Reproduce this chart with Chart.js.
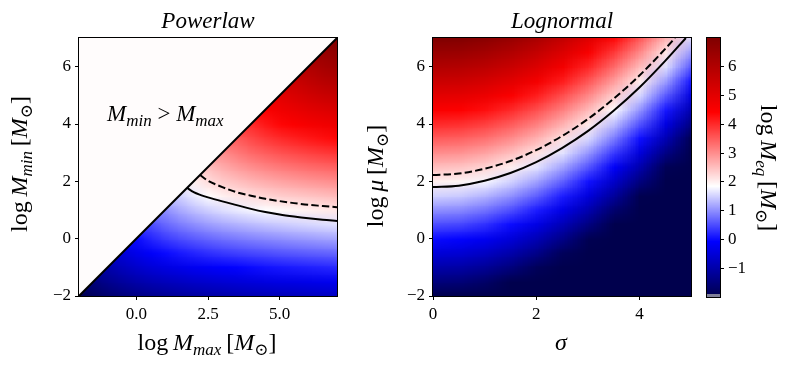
<!DOCTYPE html>
<html>
<head>
  <meta charset="utf-8">
  <title>Powerlaw / Lognormal log M_eq</title>
  <script src="https://cdn.jsdelivr.net/npm/chart.js@4.4.0/dist/chart.umd.min.js"></script>
  <style>
    html, body { margin: 0; padding: 0; background: #fff; }
    #wrap { position: relative; width: 790px; height: 369px; }
    #wrap canvas { position: absolute; left: 0; top: 0; }
  </style>
</head>
<body>
<div id="wrap">
  <canvas id="powerlaw" width="790" height="369"></canvas>
  <canvas id="lognormal" width="790" height="369"></canvas>
  <canvas id="cbar" width="790" height="369"></canvas>
</div>
<script>
// ---------- Powerlaw panel: log M_eq on a (log M_max, log M_min) grid ----------
const plX = [-2, -1.5, -1, -0.5, 0, 0.5, 1, 1.5, 2, 2.5, 3, 3.5, 4, 4.5, 5, 5.5, 6, 6.5, 7];
const plY = [-2, -1.5, -1, -0.5, 0, 0.5, 1, 1.5, 2, 2.5, 3, 3.5, 4, 4.5, 5, 5.5, 6, 6.5, 7];
// rows go with plY (bottom row first), columns with plX
const plValues = [
  [-2, -1.8, -1.64, -1.51, -1.4, -1.31, -1.23, -1.16, -1.1, -1.05, -1, -0.95, -0.91, -0.87, -0.84, -0.81, -0.78, -0.75, -0.73],
  [-1.5, -1.5, -1.3, -1.14, -1.01, -0.9, -0.81, -0.73, -0.66, -0.6, -0.55, -0.5, -0.45, -0.41, -0.37, -0.34, -0.31, -0.28, -0.25],
  [-1, -1, -1, -0.8, -0.64, -0.51, -0.4, -0.31, -0.23, -0.16, -0.1, -0.05, 0, 0.05, 0.09, 0.13, 0.16, 0.19, 0.22],
  [-0.5, -0.5, -0.5, -0.5, -0.3, -0.14, -0.01, 0.1, 0.19, 0.27, 0.34, 0.4, 0.45, 0.5, 0.55, 0.59, 0.63, 0.66, 0.69],
  [0, 0, 0, 0, 0, 0.2, 0.36, 0.49, 0.6, 0.69, 0.77, 0.84, 0.9, 0.95, 1, 1.05, 1.09, 1.13, 1.16],
  [0.5, 0.5, 0.5, 0.5, 0.5, 0.5, 0.7, 0.86, 0.99, 1.1, 1.19, 1.27, 1.34, 1.4, 1.45, 1.5, 1.55, 1.59, 1.63],
  [1, 1, 1, 1, 1, 1, 1, 1.2, 1.36, 1.49, 1.6, 1.69, 1.77, 1.84, 1.9, 1.95, 2, 2.05, 2.09],
  [1.5, 1.5, 1.5, 1.5, 1.5, 1.5, 1.5, 1.5, 1.7, 1.86, 1.99, 2.1, 2.19, 2.27, 2.34, 2.4, 2.45, 2.5, 2.55],
  [2, 2, 2, 2, 2, 2, 2, 2, 2, 2.2, 2.36, 2.49, 2.6, 2.69, 2.77, 2.84, 2.9, 2.95, 3],
  [2.5, 2.5, 2.5, 2.5, 2.5, 2.5, 2.5, 2.5, 2.5, 2.5, 2.7, 2.86, 2.99, 3.1, 3.19, 3.27, 3.34, 3.4, 3.45],
  [3, 3, 3, 3, 3, 3, 3, 3, 3, 3, 3, 3.2, 3.36, 3.49, 3.6, 3.69, 3.77, 3.84, 3.9],
  [3.5, 3.5, 3.5, 3.5, 3.5, 3.5, 3.5, 3.5, 3.5, 3.5, 3.5, 3.5, 3.7, 3.86, 3.99, 4.1, 4.19, 4.27, 4.34],
  [4, 4, 4, 4, 4, 4, 4, 4, 4, 4, 4, 4, 4, 4.2, 4.36, 4.49, 4.6, 4.69, 4.77],
  [4.5, 4.5, 4.5, 4.5, 4.5, 4.5, 4.5, 4.5, 4.5, 4.5, 4.5, 4.5, 4.5, 4.5, 4.7, 4.86, 4.99, 5.1, 5.19],
  [5, 5, 5, 5, 5, 5, 5, 5, 5, 5, 5, 5, 5, 5, 5, 5.2, 5.36, 5.49, 5.6],
  [5.5, 5.5, 5.5, 5.5, 5.5, 5.5, 5.5, 5.5, 5.5, 5.5, 5.5, 5.5, 5.5, 5.5, 5.5, 5.5, 5.7, 5.86, 5.99],
  [6, 6, 6, 6, 6, 6, 6, 6, 6, 6, 6, 6, 6, 6, 6, 6, 6, 6.2, 6.36],
  [6.5, 6.5, 6.5, 6.5, 6.5, 6.5, 6.5, 6.5, 6.5, 6.5, 6.5, 6.5, 6.5, 6.5, 6.5, 6.5, 6.5, 6.5, 6.7],
  [7, 7, 7, 7, 7, 7, 7, 7, 7, 7, 7, 7, 7, 7, 7, 7, 7, 7, 7]
];
const plMaskValue = 1.88;                       // flat colour where M_min > M_max
const plFieldRegion = [[-2, -2], [7, -2], [7, 7]];
const plMaskRegion = [[-2, -2], [-2, 7], [7, 7]];
const plDiagonal = [[-2, -2], [7, 7]];
const plSolid = [[1.77, 1.77], [2, 1.62], [2.25, 1.52], [2.5, 1.44], [3, 1.3], [3.5, 1.17], [4, 1.04],
  [4.5, 0.93], [5, 0.84], [5.5, 0.77], [6, 0.71], [6.5, 0.66], [7, 0.62]];
const plDashed = [[2.22, 2.22], [2.5, 2.02], [3, 1.8], [3.5, 1.62], [4, 1.5], [4.5, 1.39], [5, 1.31],
  [5.5, 1.24], [6, 1.18], [6.5, 1.14], [7, 1.1]];

// ---------- Lognormal panel: log M_eq on a (sigma, log mu) grid ----------
const lnSigma = [0, 0.5, 1, 1.5, 2, 2.5, 3, 3.5, 4, 4.5, 5];
const lnMu = [-2, -1.5, -1, -0.5, 0, 0.5, 1, 1.5, 2, 2.5, 3, 3.5, 4, 4.5, 5, 5.5, 6, 6.5, 7];
const lnValues = [
  [-2, -2, -2, -2, -2, -2, -2, -2, -2, -2, -2],
  [-1.5, -1.55, -1.72, -1.99, -2, -2, -2, -2, -2, -2, -2],
  [-1, -1.05, -1.22, -1.49, -1.87, -2, -2, -2, -2, -2, -2],
  [-0.5, -0.55, -0.72, -0.99, -1.37, -1.86, -2, -2, -2, -2, -2],
  [0, -0.05, -0.22, -0.49, -0.87, -1.36, -1.95, -2, -2, -2, -2],
  [0.5, 0.45, 0.28, 0.01, -0.37, -0.86, -1.45, -2, -2, -2, -2],
  [1, 0.95, 0.78, 0.51, 0.13, -0.36, -0.95, -1.66, -2, -2, -2],
  [1.5, 1.45, 1.28, 1.01, 0.63, 0.14, -0.45, -1.16, -1.97, -2, -2],
  [2, 1.95, 1.78, 1.51, 1.13, 0.64, 0.05, -0.66, -1.47, -2, -2],
  [2.5, 2.45, 2.28, 2.01, 1.63, 1.14, 0.55, -0.16, -0.97, -1.9, -2],
  [3, 2.95, 2.78, 2.51, 2.13, 1.64, 1.05, 0.34, -0.47, -1.4, -2],
  [3.5, 3.45, 3.28, 3.01, 2.63, 2.14, 1.55, 0.84, 0.03, -0.9, -1.93],
  [4, 3.95, 3.78, 3.51, 3.13, 2.64, 2.05, 1.34, 0.53, -0.4, -1.43],
  [4.5, 4.45, 4.28, 4.01, 3.63, 3.14, 2.55, 1.84, 1.03, 0.1, -0.93],
  [5, 4.95, 4.78, 4.51, 4.13, 3.64, 3.05, 2.34, 1.53, 0.6, -0.43],
  [5.5, 5.45, 5.28, 5.01, 4.63, 4.14, 3.55, 2.84, 2.03, 1.1, 0.07],
  [6, 5.95, 5.78, 5.51, 5.13, 4.64, 4.05, 3.34, 2.53, 1.6, 0.57],
  [6.5, 6.45, 6.28, 6.01, 5.63, 5.14, 4.55, 3.84, 3.03, 2.1, 1.07],
  [7, 6.95, 6.78, 6.51, 6.13, 5.64, 5.05, 4.34, 3.53, 2.6, 1.57]
];
const lnSolid = [[0, 1.8], [0.5, 1.85], [1, 2.02], [1.5, 2.29], [2, 2.67], [2.5, 3.16], [3, 3.75],
  [3.5, 4.46], [4, 5.27], [4.5, 6.2], [4.9, 7]];
const lnDashed = [[0, 2.22], [0.5, 2.27], [1, 2.44], [1.5, 2.71], [2, 3.09], [2.5, 3.58], [3, 4.17],
  [3.5, 4.88], [4, 5.69], [4.5, 6.62], [4.69, 7]];

// ---------- ticks ----------
const plXTicks = [0, 2.5, 5];
const plXTickLabels = ['0.0', '2.5', '5.0'];
const lnXTicks = [0, 2, 4];
const lnXTickLabels = ['0', '2', '4'];
const yTicks = [-2, 0, 2, 4, 6];
const yTickLabels = ['\u22122', '0', '2', '4', '6'];
const cbarTicks = [-1, 0, 1, 2, 3, 4, 5, 6];
const cbarTickLabels = ['\u22121', '0', '1', '2', '3', '4', '5', '6'];
const cbarUnder = [-2, -1.91];

// ---------- colour map (seismic, white at the centre value) ----------
const cmapStops = [-2, -0.075, 1.85, 4.425, 7];
const cmapColors = [[0, 0, 77], [0, 0, 255], [255, 255, 255], [255, 0, 0], [128, 0, 0]];

const FONT = '"Liberation Serif", "DejaVu Serif", serif';

function cmap(v) {
  if (v <= cmapStops[0]) return cmapColors[0];
  for (let i = 1; i < cmapStops.length; i++) {
    if (v <= cmapStops[i]) {
      const t = (v - cmapStops[i - 1]) / (cmapStops[i] - cmapStops[i - 1]);
      const a = cmapColors[i - 1], b = cmapColors[i];
      return [0, 1, 2].map(k => Math.round(a[k] + (b[k] - a[k]) * t));
    }
  }
  return cmapColors[cmapColors.length - 1];
}
const rgb = c => 'rgb(' + c.join(',') + ')';

// tiny image, one pixel per grid node; the browser smooths it when scaled
function fieldImage(xs, ys, values) {
  const c = document.createElement('canvas');
  c.width = xs.length; c.height = ys.length;
  const g = c.getContext('2d');
  const img = g.createImageData(xs.length, ys.length);
  for (let j = 0; j < ys.length; j++) {
    const row = ys.length - 1 - j;
    for (let i = 0; i < xs.length; i++) {
      const col = cmap(values[j][i]);
      const k = (row * xs.length + i) * 4;
      img.data[k] = col[0]; img.data[k + 1] = col[1]; img.data[k + 2] = col[2]; img.data[k + 3] = 255;
    }
  }
  g.putImageData(img, 0, 0);
  return c;
}

function polyPath(ctx, x, y, pts) {
  ctx.beginPath();
  pts.forEach((p, i) => {
    const px = x.getPixelForValue(p[0]), py = y.getPixelForValue(p[1]);
    if (i === 0) ctx.moveTo(px, py); else ctx.lineTo(px, py);
  });
  ctx.closePath();
}

function heatmapPlugin(xs, ys, values, region, maskRegion, maskValue) {
  const image = fieldImage(xs, ys, values);
  return {
    id: 'heatmap',
    beforeDatasetsDraw(chart) {
      const { ctx, chartArea: a, scales: { x, y } } = chart;
      const hx = (xs[1] - xs[0]) / 2, hy = (ys[1] - ys[0]) / 2;
      const left = x.getPixelForValue(xs[0] - hx), right = x.getPixelForValue(xs[xs.length - 1] + hx);
      const top = y.getPixelForValue(ys[ys.length - 1] + hy), bottom = y.getPixelForValue(ys[0] - hy);
      ctx.save();
      ctx.beginPath(); ctx.rect(a.left, a.top, a.width, a.height); ctx.clip();
      if (region) { polyPath(ctx, x, y, region); ctx.clip(); }
      ctx.imageSmoothingEnabled = true;
      ctx.imageSmoothingQuality = 'low';
      ctx.drawImage(image, left, top, right - left, bottom - top);
      ctx.restore();
      if (maskRegion) {
        ctx.save();
        polyPath(ctx, x, y, maskRegion);
        ctx.fillStyle = rgb(cmap(maskValue));
        ctx.fill();
        ctx.restore();
      }
    }
  };
}

const framePlugin = {
  id: 'frame',
  afterDatasetsDraw(chart) {
    const { ctx, chartArea: a } = chart;
    ctx.save();
    ctx.strokeStyle = '#000';
    ctx.lineWidth = 1;
    ctx.strokeRect(a.left - 0.5, a.top - 0.5, a.width + 1, a.height + 1);
    ctx.restore();
  }
};

// text with italic / subscript pieces: [text, style], style r | i | sr | si
function drawMath(ctx, parts, x, y, size, rot, align) {
  ctx.save();
  ctx.translate(x, y);
  if (rot) ctx.rotate(rot);
  const fontOf = st => (st.includes('i') ? 'italic ' : '') + Math.round(st[0] === 's' ? size * 0.72 : size) + 'px ' + FONT;
  const widths = parts.map(([t, st]) => { ctx.font = fontOf(st); return ctx.measureText(t).width; });
  const total = widths.reduce((s, w) => s + w, 0);
  let cx = align === 'left' ? 0 : -total / 2;
  ctx.fillStyle = '#000';
  ctx.textAlign = 'left';
  ctx.textBaseline = 'alphabetic';
  parts.forEach(([t, st], i) => {
    ctx.font = fontOf(st);
    ctx.fillText(t, cx, st[0] === 's' ? size * 0.2 : 0);
    cx += widths[i];
  });
  ctx.restore();
}

function textPlugin(items) {
  return {
    id: 'texts',
    afterDraw(chart) {
      items.forEach(it => drawMath(chart.ctx, it.parts, it.x, it.y, it.size, it.rot || 0, it.align));
    }
  };
}

function axis(min, max, ticks, labels, extra) {
  return Object.assign({
    type: 'linear', min: min, max: max,
    afterBuildTicks: s => { s.ticks = ticks.map(v => ({ value: v })); },
    ticks: {
      callback: (v, i) => labels[i],
      color: '#000', font: { family: FONT, size: 17 }, padding: 4, maxRotation: 0, autoSkip: false
    },
    grid: { display: true, drawOnChartArea: false, drawTicks: true, tickLength: 4, tickColor: '#000', tickWidth: 1 },
    border: { display: false }
  }, extra);
}

function line(points, dash, width) {
  return {
    data: points.map(p => ({ x: p[0], y: p[1] })),
    showLine: true, pointRadius: 0, borderColor: '#000', borderWidth: width,
    borderDash: dash, tension: 0.4, cubicInterpolationMode: 'monotone', fill: false
  };
}

const baseOptions = (padding, xAxis, yAxis) => ({
  responsive: false, animation: false, events: [],
  layout: { padding: padding },
  plugins: { legend: { display: false }, tooltip: { enabled: false } },
  scales: { x: xAxis, y: yAxis }
});

const sun = ['\u2299', 'sr'];

// ---------- Powerlaw ----------
new Chart(document.getElementById('powerlaw'), {
  type: 'scatter',
  data: {
    datasets: [
      line(plDiagonal, [], 2),
      line(plSolid, [], 2),
      line(plDashed, [7.4, 3.2], 2)
    ]
  },
  options: baseOptions({ left: 0, right: 453, top: 38, bottom: 0 },
    axis(-2, 7, plXTicks, plXTickLabels, { afterFit: s => { s.height = 73; } }),
    axis(-2, 7, yTicks, yTickLabels, { afterFit: s => { s.width = 79; } })),
  plugins: [
    heatmapPlugin(plX, plY, plValues, plFieldRegion, plMaskRegion, plMaskValue),
    framePlugin,
    textPlugin([
      { parts: [['Powerlaw', 'i']], x: 208, y: 28, size: 23 },
      { parts: [['log\u2009', 'r'], ['M', 'i'], ['max', 'si'], ['\u2009[', 'r'], ['M', 'i'], sun, [']', 'r']], x: 207, y: 350, size: 24 },
      { parts: [['log\u2009', 'r'], ['M', 'i'], ['min', 'si'], ['\u2009[', 'r'], ['M', 'i'], sun, [']', 'r']], x: 27, y: 164, size: 24, rot: -Math.PI / 2 },
      { parts: [['M', 'i'], ['min', 'si'], [' > ', 'r'], ['M', 'i'], ['max', 'si']], x: 107, y: 121, size: 23, align: 'left' }
    ])
  ]
});

// ---------- Lognormal ----------
new Chart(document.getElementById('lognormal'), {
  type: 'scatter',
  data: {
    datasets: [
      line(lnSolid, [], 2),
      line(lnDashed, [7.4, 3.2], 2)
    ]
  },
  options: baseOptions({ left: 0, right: 99, top: 38, bottom: 0 },
    axis(0, 5, lnXTicks, lnXTickLabels, { afterFit: s => { s.height = 73; } }),
    axis(-2, 7, yTicks, yTickLabels, { afterFit: s => { s.width = 433; } })),
  plugins: [
    heatmapPlugin(lnSigma, lnMu, lnValues, null, null, null),
    framePlugin,
    textPlugin([
      { parts: [['Lognormal', 'i']], x: 562, y: 28, size: 23 },
      { parts: [['\u03c3', 'i']], x: 561, y: 350, size: 24 },
      { parts: [['log\u2009', 'r'], ['\u03bc', 'i'], ['\u2009[', 'r'], ['M', 'i'], sun, [']', 'r']], x: 383, y: 176, size: 24, rot: -Math.PI / 2 }
    ])
  ]
});

// ---------- colour bar ----------
const colorbarPlugin = {
  id: 'colorbar',
  beforeDatasetsDraw(chart) {
    const { ctx, chartArea: a, scales: { y } } = chart;
    ctx.save();
    for (let py = Math.floor(a.top); py < Math.ceil(a.bottom); py++) {
      const v = y.getValueForPixel(py + 0.5);
      ctx.fillStyle = v < cbarUnder[1] ? '#7f7f98' : rgb(cmap(v));
      ctx.fillRect(a.left, py, a.width, 1);
    }
    ctx.restore();
  }
};

new Chart(document.getElementById('cbar'), {
  type: 'scatter',
  data: { datasets: [] },
  options: baseOptions({ left: 707, right: 0, top: 38, bottom: 72 },
    { type: 'linear', display: false, min: 0, max: 1 },
    axis(cbarUnder[0], 7, cbarTicks, cbarTickLabels, { position: 'right', afterFit: s => { s.width = 70; } })),
  plugins: [
    colorbarPlugin,
    framePlugin,
    textPlugin([
      { parts: [['log\u2009', 'r'], ['M', 'i'], ['eq', 'si'], ['\u2009[', 'r'], ['M', 'i'], sun, [']', 'r']], x: 761, y: 168, size: 24, rot: Math.PI / 2 }
    ])
  ]
});
</script>
</body>
</html>
